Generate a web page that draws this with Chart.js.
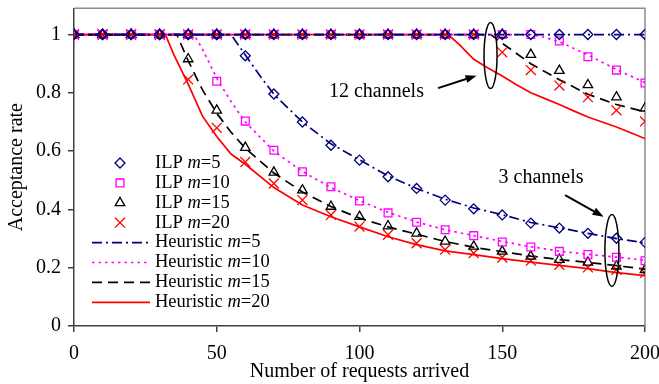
<!DOCTYPE html>
<html>
<head>
<meta charset="utf-8">
<script src="https://cdn.jsdelivr.net/npm/chart.js@4/dist/chart.umd.min.js"></script>
<style>
  html, body { margin: 0; padding: 0; background: #fff; }
  #wrap { width: 659px; height: 384px; }
</style>
</head>
<body>
<div id="wrap"><canvas id="chart" width="659" height="384"></canvas></div>
<script>
// requests arrived, one ILP marker every 10
const requests = [0, 10, 20, 30, 40, 50, 60, 70, 80, 90, 100, 110, 120, 130, 140, 150, 160, 170, 180, 190, 200];
const yTicks = [0, 0.2, 0.4, 0.6, 0.8, 1];
const xTicks = [0, 50, 100, 150, 200];

// ILP results, 3 channels
const ilp5_3ch  = [1, 1, 1, 1, 1, 1, 0.927, 0.796, 0.70, 0.62, 0.569, 0.512, 0.472, 0.432, 0.402, 0.381, 0.353, 0.336, 0.318, 0.301, 0.287];
const ilp10_3ch = [1, 1, 1, 1, 1, 0.84, 0.703, 0.603, 0.529, 0.478, 0.429, 0.388, 0.356, 0.33, 0.31, 0.288, 0.271, 0.256, 0.245, 0.236, 0.224];
const ilp15_3ch = [1, 1, 1, 1, 0.916, 0.74, 0.612, 0.527, 0.466, 0.41, 0.375, 0.343, 0.318, 0.29, 0.273, 0.256, 0.239, 0.228, 0.218, 0.205, 0.193];
const ilp20_3ch = [1, 1, 1, 1, 0.846, 0.68, 0.563, 0.489, 0.432, 0.381, 0.341, 0.313, 0.284, 0.262, 0.25, 0.235, 0.224, 0.21, 0.201, 0.193, 0.182];

// ILP results, 12 channels
const ilp5_12ch  = [1, 1, 1, 1, 1, 1, 1, 1, 1, 1, 1, 1, 1, 1, 1, 1, 1, 1, 1, 1, 1];
const ilp10_12ch = [1, 1, 1, 1, 1, 1, 1, 1, 1, 1, 1, 1, 1, 1, 1, 1, 1, 0.978, 0.924, 0.878, 0.834];
const ilp15_12ch = [1, 1, 1, 1, 1, 1, 1, 1, 1, 1, 1, 1, 1, 1, 1, 1, 0.931, 0.876, 0.827, 0.785, 0.747];
const ilp20_12ch = [1, 1, 1, 1, 1, 1, 1, 1, 1, 1, 1, 1, 1, 1, 1, 0.939, 0.878, 0.825, 0.785, 0.74, 0.702];

// heuristic curves (x, y)
const h5_3ch_x  = [0, 55, 60, 65, 70, 80, 90, 100, 110, 120, 130, 140, 150, 160, 170, 180, 190, 200];
const h5_3ch_y  = [1, 1, 0.93, 0.86, 0.795, 0.70, 0.625, 0.57, 0.515, 0.472, 0.435, 0.405, 0.382, 0.355, 0.337, 0.318, 0.30, 0.285];
const h10_3ch_x = [0, 42, 45, 50, 55, 60, 70, 80, 90, 100, 110, 120, 130, 140, 150, 160, 170, 180, 190, 200];
const h10_3ch_y = [1, 1, 0.95, 0.85, 0.77, 0.70, 0.60, 0.53, 0.475, 0.43, 0.39, 0.357, 0.33, 0.31, 0.29, 0.272, 0.257, 0.246, 0.236, 0.226];
const h15_3ch_x = [0, 36, 40, 45, 50, 55, 60, 70, 80, 90, 100, 110, 120, 130, 140, 150, 160, 170, 180, 190, 200];
const h15_3ch_y = [1, 1, 0.91, 0.81, 0.73, 0.665, 0.61, 0.525, 0.46, 0.41, 0.37, 0.34, 0.315, 0.29, 0.27, 0.255, 0.24, 0.228, 0.218, 0.207, 0.195];
const h20_3ch_x = [0, 32, 35, 40, 45, 50, 55, 60, 70, 80, 90, 100, 110, 120, 130, 140, 150, 160, 170, 180, 190, 200];
const h20_3ch_y = [1, 1, 0.93, 0.83, 0.72, 0.65, 0.59, 0.555, 0.475, 0.415, 0.375, 0.34, 0.306, 0.279, 0.258, 0.245, 0.231, 0.219, 0.208, 0.197, 0.183, 0.173];

const h5_12ch_x  = [0, 200];
const h5_12ch_y  = [1, 1];
const h10_12ch_x = [0, 160, 165, 170, 180, 190, 200];
const h10_12ch_y = [1, 1, 0.99, 0.975, 0.93, 0.88, 0.835];
const h15_12ch_x = [0, 146, 150, 155, 160, 170, 180, 190, 200];
const h15_12ch_y = [1, 1, 0.97, 0.935, 0.90, 0.845, 0.795, 0.76, 0.735];
const h20_12ch_x = [0, 131, 135, 140, 145, 150, 155, 160, 165, 170, 175, 180, 185, 190, 195, 200];
const h20_12ch_y = [1, 1, 0.965, 0.915, 0.885, 0.858, 0.828, 0.80, 0.78, 0.76, 0.738, 0.717, 0.70, 0.683, 0.663, 0.643];

const mValues = ['5', '10', '15', '20'];
const colors = ['#000080', '#FF00FF', '#000000', '#FF0000'];
const markers = ['rectRot', 'rect', 'triangle', 'crossRot'];
const markerSizes = [5, 5.5, 5.5, 7];
const dashes = [[10, 4, 2, 4], [2.5, 4], [10, 6], []];

const FONT = '"Liberation Serif", "Times New Roman", serif';

function pairs(xs, ys) {
  return xs.map((x, i) => ({ x: x, y: ys[i] }));
}

const ilpSets = [[ilp5_3ch, ilp5_12ch], [ilp10_3ch, ilp10_12ch], [ilp15_3ch, ilp15_12ch], [ilp20_3ch, ilp20_12ch]];
const heurSets = [
  [[h5_3ch_x, h5_3ch_y], [h5_12ch_x, h5_12ch_y]],
  [[h10_3ch_x, h10_3ch_y], [h10_12ch_x, h10_12ch_y]],
  [[h15_3ch_x, h15_3ch_y], [h15_12ch_x, h15_12ch_y]],
  [[h20_3ch_x, h20_3ch_y], [h20_12ch_x, h20_12ch_y]],
];

const datasets = [];
// markers first so they are drawn on top
ilpSets.forEach((group, i) => {
  group.forEach((ys) => {
    datasets.push({
      label: 'ILP m=' + mValues[i],
      data: pairs(requests, ys),
      showLine: false,
      pointStyle: markers[i],
      pointRadius: markerSizes[i],
      pointBorderWidth: 1.3,
      borderColor: colors[i],
      backgroundColor: 'rgba(0,0,0,0)',
    });
  });
});
heurSets.forEach((group, i) => {
  group.forEach((xy) => {
    datasets.push({
      label: 'Heuristic m=' + mValues[i],
      data: pairs(xy[0], xy[1]),
      showLine: true,
      pointRadius: 0,
      borderColor: colors[i],
      borderWidth: 1.7,
      borderDash: dashes[i],
      tension: 0,
    });
  });
});

// annotations in data space
const notes = [
  { text: '12 channels', x: 89.3, y: 0.802 },
  { text: '3 channels', x: 148.7, y: 0.51 },
];
const ellipses = [
  { x: 145.9, y: 0.928, rx: 6.5, ry: 33 },
  { x: 188.4, y: 0.259, rx: 7, ry: 36 },
];
const arrows = [
  { x0: 127.5, y0: 0.816, x1: 141, y1: 0.859 },
  { x0: 172, y0: 0.449, x1: 185.5, y1: 0.375 },
];

const framePlugin = {
  id: 'frame',
  beforeDatasetsDraw(chart) {
    const { ctx, chartArea: a } = chart;
    ctx.save();
    ctx.strokeStyle = '#8c8c8c';
    ctx.lineWidth = 1.5;
    ctx.beginPath();
    ctx.moveTo(a.left, a.top);
    ctx.lineTo(a.right, a.top);
    ctx.lineTo(a.right, a.bottom);
    ctx.stroke();
    ctx.restore();
  },
  afterDatasetsDraw(chart) {
    const { ctx, scales: { x, y } } = chart;
    ctx.save();
    ctx.fillStyle = '#000';
    ctx.strokeStyle = '#000';
    ctx.font = '20px ' + FONT;
    ctx.textBaseline = 'middle';
    ctx.textAlign = 'left';
    notes.forEach((n) => ctx.fillText(n.text, x.getPixelForValue(n.x), y.getPixelForValue(n.y)));

    ctx.lineWidth = 1.5;
    ellipses.forEach((e) => {
      ctx.beginPath();
      ctx.ellipse(x.getPixelForValue(e.x), y.getPixelForValue(e.y), e.rx, e.ry, 0, 0, Math.PI * 2);
      ctx.stroke();
    });

    arrows.forEach((ar) => {
      const px0 = x.getPixelForValue(ar.x0), py0 = y.getPixelForValue(ar.y0);
      const px1 = x.getPixelForValue(ar.x1), py1 = y.getPixelForValue(ar.y1);
      const ang = Math.atan2(py1 - py0, px1 - px0);
      const len = 11, wid = 4;
      const bx = px1 - len * Math.cos(ang), by = py1 - len * Math.sin(ang);
      ctx.lineWidth = 2;
      ctx.beginPath();
      ctx.moveTo(px0, py0);
      ctx.lineTo(bx, by);
      ctx.stroke();
      ctx.beginPath();
      ctx.moveTo(px1, py1);
      ctx.lineTo(bx + wid * Math.sin(ang), by - wid * Math.cos(ang));
      ctx.lineTo(bx - wid * Math.sin(ang), by + wid * Math.cos(ang));
      ctx.closePath();
      ctx.fill();
    });
    ctx.restore();
  },
};

// legend drawn inside the plot, left side
const legendPlugin = {
  id: 'insideLegend',
  afterDraw(chart) {
    const ctx = chart.ctx;
    const top = 163, step = 19.9;
    const markerX = 120, lineX0 = 92, lineX1 = 150, textX = 155;
    ctx.save();
    ctx.textBaseline = 'middle';
    ctx.textAlign = 'left';

    function label(prefix, m, yy) {
      let tx = textX;
      ctx.fillStyle = '#000';
      ctx.font = '18.5px ' + FONT;
      ctx.fillText(prefix, tx, yy);
      tx += ctx.measureText(prefix).width;
      ctx.font = 'italic 18.5px ' + FONT;
      ctx.fillText('m', tx, yy);
      tx += ctx.measureText('m').width;
      ctx.font = '18.5px ' + FONT;
      ctx.fillText('=' + m, tx, yy);
    }

    mValues.forEach((m, i) => {
      const yy = top + i * step;
      ctx.strokeStyle = colors[i];
      ctx.fillStyle = 'rgba(0,0,0,0)';
      ctx.lineWidth = 1.3;
      Chart.helpers.drawPoint(ctx, { pointStyle: markers[i], radius: markerSizes[i], rotation: 0, borderWidth: 1.3 }, markerX, yy);
      label('ILP ', m, yy);
    });
    mValues.forEach((m, i) => {
      const yy = top + (i + 4) * step;
      ctx.strokeStyle = colors[i];
      ctx.lineWidth = 1.7;
      ctx.setLineDash(dashes[i]);
      ctx.beginPath();
      ctx.moveTo(lineX0, yy);
      ctx.lineTo(lineX1, yy);
      ctx.stroke();
      ctx.setLineDash([]);
      label('Heuristic ', m, yy);
    });
    ctx.restore();
  },
};

new Chart(document.getElementById('chart'), {
  type: 'scatter',
  data: { datasets: datasets },
  options: {
    responsive: false,
    animation: false,
    layout: { padding: { top: 5, right: 14, left: 0, bottom: 0 } },
    plugins: {
      legend: { display: false },
      tooltip: { enabled: false },
    },
    scales: {
      x: {
        type: 'linear',
        min: 0,
        max: 200,
        afterBuildTicks: (s) => { s.ticks = xTicks.map((v) => ({ value: v })); },
        afterFit: (s) => { s.height = 58; s.paddingLeft = 0; s.paddingRight = 0; },
        ticks: { color: '#000', font: { family: FONT, size: 20 }, padding: 10, maxRotation: 0 },
        grid: { drawOnChartArea: false, tickLength: 6, color: '#404040', lineWidth: 1.5 },
        border: { color: '#404040', width: 1.5 },
        title: { display: true, text: 'Number of requests arrived', color: '#000', font: { family: FONT, size: 20 }, padding: { top: 0, bottom: 0 } },
      },
      y: {
        type: 'linear',
        min: 0,
        max: 1.09,
        afterBuildTicks: (s) => { s.ticks = yTicks.map((v) => ({ value: v })); },
        afterFit: (s) => { s.width = 74; s.paddingTop = 0; s.paddingBottom = 0; },
        ticks: { color: '#000', font: { family: FONT, size: 20 }, padding: 7, callback: (v) => String(v) },
        grid: { drawOnChartArea: false, tickLength: 6, color: '#404040', lineWidth: 1.5 },
        border: { color: '#404040', width: 1.5 },
        title: { display: true, text: 'Acceptance rate', color: '#000', font: { family: FONT, size: 20 }, padding: { top: 5, bottom: 0 } },
      },
    },
  },
  plugins: [framePlugin, legendPlugin],
});
</script>
</body>
</html>
